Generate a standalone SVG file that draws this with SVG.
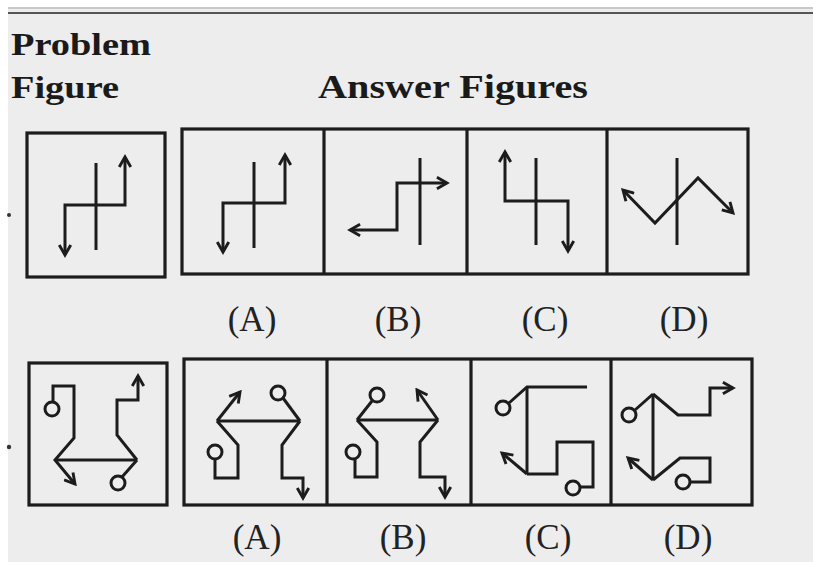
<svg xmlns="http://www.w3.org/2000/svg" width="813" height="562" viewBox="0 0 813 562">
<defs>
<style>
.box{fill:none;stroke:#1c1c1c;stroke-width:3.2}
.ln{fill:none;stroke:#1c1c1c;stroke-width:3;stroke-linejoin:miter;stroke-linecap:butt}
.ci{fill:none;stroke:#1c1c1c;stroke-width:3}
.hd{font-family:'Liberation Serif','Times New Roman',Tinos,serif;font-weight:bold;fill:#1a1a1a}
.lb{font-family:'Liberation Serif','Times New Roman',Tinos,serif;font-size:35px;fill:#222}
</style>
<marker id="ah" viewBox="0 0 10 10" refX="8" refY="5" markerWidth="4.8" markerHeight="4.8" orient="auto-start-reverse" markerUnits="strokeWidth">
<path d="M1,1 L8,5 L1,9" fill="none" stroke="#1c1c1c" stroke-width="2"/>
</marker>
</defs>
<rect width="813" height="562" fill="#ffffff"/>
<rect x="8" y="7" width="805" height="555" fill="#ededed"/>
<line x1="8" y1="8" x2="813" y2="8" stroke="#c8c8c8" stroke-width="2"/>
<line x1="8" y1="13" x2="813" y2="13" stroke="#555" stroke-width="2"/>
<circle cx="9" cy="215" r="2" fill="#333"/>
<circle cx="9" cy="447" r="2.2" fill="#333"/>

<g id="headings">
<text class="hd" x="11" y="55" font-size="32" textLength="140" lengthAdjust="spacingAndGlyphs">Problem</text>
<text class="hd" x="11" y="98" font-size="32" textLength="108" lengthAdjust="spacingAndGlyphs">Figure</text>
<text class="hd" x="318" y="98" font-size="34" textLength="270" lengthAdjust="spacingAndGlyphs">Answer Figures</text>
</g>

<g id="row1-frames">
<rect class="box" x="27" y="133" width="138" height="144"/>
<rect class="box" x="182" y="129" width="566" height="145"/>
<line class="box" x1="324" y1="129" x2="324" y2="274"/>
<line class="box" x1="467" y1="129" x2="467" y2="274"/>
<line class="box" x1="607" y1="129" x2="607" y2="274"/>
</g>

<g id="row1-problem">
<line class="ln" x1="96" y1="163" x2="96" y2="250"/>
<polyline class="ln" points="65,255 65,205 125,205 125,157" marker-start="url(#ah)" marker-end="url(#ah)"/>
</g>
<g id="row1-A">
<line class="ln" x1="254" y1="162" x2="254" y2="248"/>
<polyline class="ln" points="223,252 223,203 285,203 285,155" marker-start="url(#ah)" marker-end="url(#ah)"/>
</g>
<g id="row1-B">
<line class="ln" x1="420" y1="158" x2="420" y2="245"/>
<polyline class="ln" points="350,230 397,230 397,183 447,183" marker-start="url(#ah)" marker-end="url(#ah)"/>
</g>
<g id="row1-C">
<line class="ln" x1="536" y1="158" x2="536" y2="245"/>
<polyline class="ln" points="505,152 505,201 568,201 568,251" marker-start="url(#ah)" marker-end="url(#ah)"/>
</g>
<g id="row1-D">
<line class="ln" x1="677" y1="158" x2="677" y2="245"/>
<polyline class="ln" points="623,190 655,223 698,178 733,213" marker-start="url(#ah)" marker-end="url(#ah)"/>
</g>

<g id="row1-labels">
<text class="lb" x="252" y="331" text-anchor="middle">(A)</text>
<text class="lb" x="398" y="331" text-anchor="middle">(B)</text>
<text class="lb" x="545" y="331" text-anchor="middle">(C)</text>
<text class="lb" x="684" y="331" text-anchor="middle">(D)</text>
</g>

<g id="row2-frames">
<rect class="box" x="29" y="363" width="138" height="142"/>
<rect class="box" x="184" y="359" width="568" height="146"/>
<line class="box" x1="327" y1="359" x2="327" y2="505"/>
<line class="box" x1="471" y1="359" x2="471" y2="505"/>
<line class="box" x1="611" y1="359" x2="611" y2="505"/>
</g>

<g id="row2-problem">
<circle class="ci" cx="52" cy="409" r="7"/>
<polyline class="ln" points="53,402 53,386 74,386 74,438 55,460 75,484" marker-end="url(#ah)"/>
<line class="ln" x1="55" y1="460" x2="137" y2="460"/>
<polyline class="ln" points="137,460 117,435 117,400 138,400 138,376" marker-end="url(#ah)"/>
<line class="ln" x1="137" y1="460" x2="122" y2="477"/>
<circle class="ci" cx="118" cy="483" r="7"/>
</g>
<g id="row2-A">
<polyline class="ln" points="217,421 240,392" marker-end="url(#ah)"/>
<line class="ln" x1="217" y1="421" x2="300" y2="421"/>
<circle class="ci" cx="278" cy="393" r="7"/>
<line class="ln" x1="283" y1="398" x2="300" y2="421"/>
<polyline class="ln" points="217,421 238,445 238,478 215,478 215,459"/>
<circle class="ci" cx="215" cy="452" r="7"/>
<polyline class="ln" points="300,421 282,445 282,478 303,478 303,498" marker-end="url(#ah)"/>
</g>
<g id="row2-B">
<circle class="ci" cx="377" cy="395" r="7"/>
<line class="ln" x1="372" y1="401" x2="357" y2="420"/>
<line class="ln" x1="357" y1="420" x2="438" y2="420"/>
<polyline class="ln" points="438,420 417,390" marker-end="url(#ah)"/>
<polyline class="ln" points="357,420 377,442 377,477 355,477 355,459"/>
<circle class="ci" cx="353" cy="452" r="7"/>
<polyline class="ln" points="438,420 420,442 420,477 445,477 445,497" marker-end="url(#ah)"/>
</g>
<g id="row2-C">
<circle class="ci" cx="503" cy="408" r="7"/>
<polyline class="ln" points="509,403 527,387 587,387"/>
<line class="ln" x1="527" y1="387" x2="527" y2="474"/>
<polyline class="ln" points="527,474 502,453" marker-end="url(#ah)"/>
<polyline class="ln" points="527,474 557,474 557,442 593,442 593,487 580,487"/>
<circle class="ci" cx="573" cy="488" r="7"/>
</g>
<g id="row2-D">
<circle class="ci" cx="629" cy="415" r="7"/>
<line class="ln" x1="635" y1="410" x2="653" y2="394"/>
<line class="ln" x1="653" y1="394" x2="653" y2="480"/>
<polyline class="ln" points="653,394 678,415 710,415 710,388 733,388" marker-end="url(#ah)"/>
<polyline class="ln" points="653,480 628,458" marker-end="url(#ah)"/>
<polyline class="ln" points="653,480 680,458 710,458 710,482 690,482"/>
<circle class="ci" cx="683" cy="482" r="7"/>
</g>

<g id="row2-labels">
<text class="lb" x="257" y="549" text-anchor="middle">(A)</text>
<text class="lb" x="403" y="549" text-anchor="middle">(B)</text>
<text class="lb" x="548" y="549" text-anchor="middle">(C)</text>
<text class="lb" x="688" y="549" text-anchor="middle">(D)</text>
</g>
</svg>
